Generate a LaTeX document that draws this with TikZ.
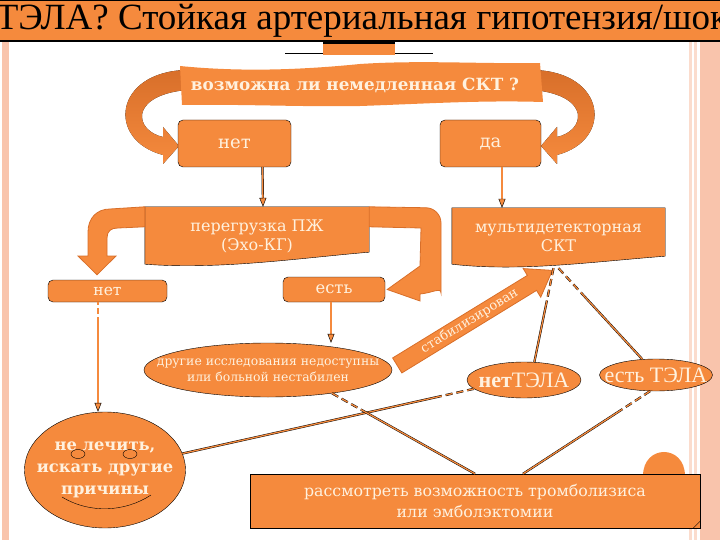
\documentclass[tikz,border=0pt]{standalone}
\usepackage{fontspec}
\setmainfont{Liberation Serif}
\newfontfamily\boxfont{DejaVu Serif}
\usetikzlibrary{shapes.geometric,shapes.arrows,arrows.meta,backgrounds}
\definecolor{slideorange}{HTML}{F58A3D}
\definecolor{shadeorange}{HTML}{D86F2A}
\definecolor{paletext}{HTML}{FFF1DE}
\definecolor{pinkband}{HTML}{F9C4AC}
\tikzset{
  stepbox/.style={draw, fill=slideorange, rounded corners=5pt, text=paletext,
    font=\boxfont\fontsize{18}{21}\selectfont, inner sep=0pt},
  plaintext/.style={text=paletext, align=center, inner sep=0pt,
    font=\boxfont\fontsize{16}{19}\selectfont},
  oval/.style={ellipse, draw, fill=slideorange, text=paletext, align=center,
    inner xsep=-40pt, inner ysep=-12pt},
  wire/.style={double=slideorange, double distance=1.3pt, line width=0.45pt},
  headed/.style={-{Triangle[length=9pt, width=7pt, fill=slideorange]}},
  dashstart/.style={dash pattern=on 7pt off 4pt on 7pt off 4pt on 7pt off 4pt
    on 600pt off 0pt},
  blockarrow/.style={fill=slideorange, draw=shadeorange, line width=0.8pt}
}
\begin{document}
\begin{tikzpicture}[x=1pt, y=-1pt]
\useasboundingbox (0,0) rectangle (720,540);
%
\draw (362,21) node[font=\fontsize{37}{40}\selectfont] (title)
  {ТЭЛА? Стойкая артериальная гипотензия/шок};
%
\draw (355,85) node[plaintext, font=\boxfont\bfseries\fontsize{16.8}{19}\selectfont]
  (ask) {возможна ли немедленная СКТ ?};
\draw (234.5,143.5) node[stepbox, minimum width=113, minimum height=47] (no) {нет};
\draw (490.5,143.5) node[stepbox, minimum width=101, minimum height=47] (yes) {да};
%
\draw (257,236) node[plaintext, minimum width=224, minimum height=58] (rv)
  {перегрузка ПЖ\\(Эхо-КГ)};
\draw (558.5,238) node[plaintext, minimum width=213, minimum height=60] (msct)
  {мультидетекторная\\СКТ};
\draw[wire, headed] ([xshift=28pt]no.south) -- ([xshift=6pt]rv.north);
\draw[wire, headed] ([xshift=11.5pt]yes.south) -- ([xshift=-56.5pt]msct.north);
%
\draw (107.5,291) node[stepbox, font=\boxfont\fontsize{15.5}{18}\selectfont,
  minimum width=119, minimum height=22] (no2) {нет};
\draw (334,289.5) node[stepbox, font=\boxfont\fontsize{16.4}{18}\selectfont,
  minimum width=102, minimum height=25] (yes2) {есть};
%
\draw (268,370) node[oval, font=\boxfont\fontsize{12.4}{16}\selectfont,
  minimum width=248, minimum height=54] (oth)
  {другие исследования недоступны\\или больной нестабилен};
\draw[wire, headed] ([xshift=-3pt]yes2.south) -- ([xshift=-3pt]yes2.south |- oth.north);
%
\draw (553,270) node[single arrow, blockarrow, text=paletext, rotate=31.5,
  anchor=tip, minimum height=182, single arrow head extend=8pt,
  single arrow tip angle=70, inner sep=2pt,
  font=\boxfont\fontsize{13}{15}\selectfont] (stab) {стабилизирован};
%
\draw (524,380) node[oval, minimum width=114, minimum height=36,
  font=\fontsize{22}{24}\selectfont] (nope) {{\bfseries нет}ТЭЛА};
\draw (656,375) node[oval, minimum width=113, minimum height=32,
  font=\fontsize{22}{24}\selectfont] (yesp) {есть ТЭЛА};
\draw[wire, dashstart] ([xshift=-5pt]msct.south) -- (nope.60);
\draw[wire, dashstart] (msct.south) -- (yesp.131);
%
\draw (105,470) node[oval, font=\boxfont\bfseries\fontsize{16.3}{22}\selectfont,
  minimum width=161, minimum height=116] (smile)
  {не лечить,\\искать другие\\причины};
\draw (78,454) ellipse [x radius=7, y radius=4.5];
\draw (130,454) ellipse [x radius=7, y radius=4.5];
\draw (62,497) .. controls (90,514) and (125,512) .. (151,495);
\draw[wire, headed, dash pattern=on 3pt off 3pt on 6pt off 3pt on 300pt off 0pt]
  ([xshift=-9.5pt]no2.south) -- ([xshift=-7pt]smile.north);
%
\draw (475,501) node[draw, fill=slideorange, text=paletext, align=center,
  font=\boxfont\fontsize{15.8}{21}\selectfont,
  minimum width=450, minimum height=54] (trb)
  {рассмотреть возможность тромболизиса\\или эмболэктомии};
\draw ([xshift=-7pt]trb.south east) -- ([yshift=7pt]trb.south east);
\draw[wire, dashstart] (nope.190) -- (smile.12);
\draw[wire, dashstart] (oth.340) -- (trb.north);
\draw[wire, dashstart] (yesp.250) -- ([xshift=48pt]trb.north);
%
\begin{scope}[on background layer]
% slide frame
\fill[slideorange] (0,0) rectangle (720,41);
\draw[line width=1pt] (0,0.5) -- (720,0.5);
\draw[line width=1.5pt] (0,41) -- (720,41);
\fill[pinkband] (2,42) rectangle (9,540);
\fill[pinkband!60] (689,42) rectangle (692,540);
\fill[pinkband!60] (694,42) rectangle (697,540);
\fill[pinkband] (700,42) rectangle (720,540);
\draw[line width=1pt] (285,53.5) -- (433,53.5);
\fill[slideorange] (323,42) rectangle (395,55);
\draw[line width=2.5pt] (323,42.5) -- (395,42.5);
% curved arrows to the two answers
\fill[top color=shadeorange, bottom color=slideorange] (186,70)
  .. controls (114,72) and (106,140) .. (163,155) -- (163,164) -- (179,146)
  -- (163,127) -- (163,137) .. controls (135,131) and (128,96) .. (186,90) -- cycle;
\begin{scope}[shift={(720,0)}, xscale=-1]
\fill[top color=shadeorange, bottom color=slideorange] (186,70)
  .. controls (114,72) and (106,140) .. (163,155) -- (163,164) -- (179,146)
  -- (163,127) -- (163,137) .. controls (135,131) and (128,96) .. (186,90) -- cycle;
\end{scope}
\fill[slideorange] (180,66) .. controls (240,72) and (300,70) .. (360,64)
  .. controls (420,60) and (480,64) .. (540,63) -- (543,102)
  .. controls (480,100) and (420,104) .. (360,106)
  .. controls (300,107) and (240,104) .. (182,105) -- cycle;
% wavy boxes
\filldraw[fill=slideorange] (rv.north west) -- (rv.north east)
  -- ([yshift=13pt]rv.south east) .. controls (300,258) and (220,270)
  .. ([yshift=1pt]rv.south west) -- cycle;
\filldraw[fill=slideorange] (msct.north west) -- (msct.north east)
  -- ([yshift=12pt]msct.south east) .. controls (590,262) and (520,272)
  .. ([yshift=4pt]msct.south west) -- cycle;
% u-turn and bend arrows
\filldraw[blockarrow] (rv.north east) [rounded corners=15pt] -- (441,208)
  -- (441,278) [sharp corners] .. controls (441,287) and (432,293) .. (420,294)
  -- (420,301) -- ([xshift=2pt]yes2.east) -- (420,266) -- (421,228)
  -- ([yshift=-20pt]rv.north east) -- cycle;
\filldraw[blockarrow] (rv.north west) -- (110,209)
  .. controls (97,209) and (88,218) .. (88,232) -- (88,256) -- (78,256)
  -- ([xshift=-10.5pt, yshift=5pt]no2.north) -- (116,256) -- (107,256)
  -- (107,238) .. controls (107,231) and (111,228) .. (118,228)
  -- ([yshift=-20pt]rv.north west) -- cycle;
\fill[slideorange] (643,476) .. controls (643,444) and (685,444) .. (685,476) -- cycle;
\end{scope}
\end{tikzpicture}
\end{document}
